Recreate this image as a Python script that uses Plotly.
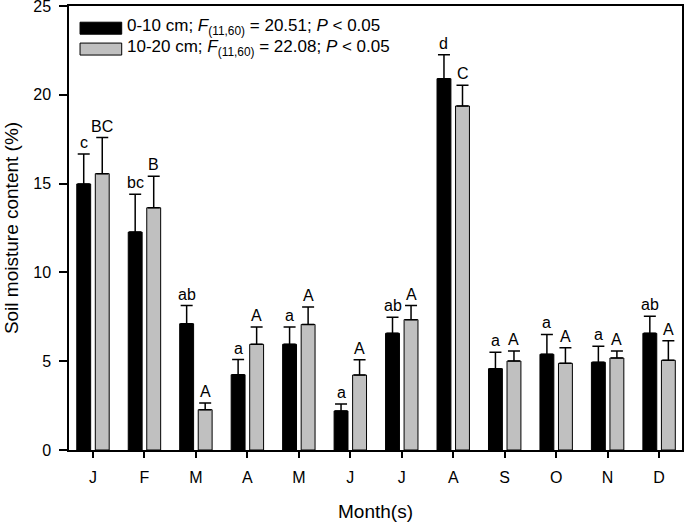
import plotly.graph_objects as go

months = ["J", "F", "M", "A", "M", "J", "J", "A", "S", "O", "N", "D"]
shallow_mean = [14.98, 12.27, 7.11, 4.24, 5.95, 2.20, 6.57, 20.91, 4.58, 5.39, 4.94, 6.57]
shallow_se = [1.69, 2.13, 1.02, 0.85, 0.98, 0.39, 0.90, 1.35, 0.92, 1.12, 0.90, 0.96]
deep_mean = [15.56, 13.64, 2.27, 5.95, 7.07, 4.22, 7.34, 19.37, 5.01, 4.88, 5.18, 5.05]
deep_se = [2.03, 1.77, 0.38, 0.98, 0.98, 0.86, 0.79, 1.17, 0.56, 0.88, 0.39, 1.10]
shallow_letters = ["c", "bc", "ab", "a", "a", "a", "ab", "d", "a", "a", "a", "ab"]
deep_letters = ["BC", "B", "A", "A", "A", "A", "A", "C", "A", "A", "A", "A"]
legend_labels = [
    "0-10 cm; <i>F</i><sub>(11,60)</sub> = 20.51; <i>P</i> < 0.05",
    "10-20 cm; <i>F</i><sub>(11,60)</sub> = 22.08; <i>P</i> < 0.05",
]

FONT = "Arial, 'Liberation Sans', sans-serif"
idx = list(range(len(months)))
W = 0.27

fig = go.Figure()
fig.add_trace(go.Bar(
    x=idx, y=shallow_mean, width=W, offset=-0.315,
    marker=dict(color="black", line=dict(color="black", width=1)),
    error_y=dict(type="data", array=shallow_se, symmetric=False,
                 arrayminus=[0] * len(idx), color="black", thickness=1.5, width=6),
    name="0-10 cm", showlegend=False,
))
fig.add_trace(go.Bar(
    x=idx, y=deep_mean, width=W, offset=0.045,
    marker=dict(color="#c0c0c0", line=dict(color="black", width=1)),
    error_y=dict(type="data", array=deep_se, symmetric=False,
                 arrayminus=[0] * len(idx), color="black", thickness=1.5, width=6),
    name="10-20 cm", showlegend=False,
))

annotations = []
for i in idx:
    annotations.append(dict(x=i - 0.18, y=shallow_mean[i] + shallow_se[i], text=shallow_letters[i],
                            showarrow=False, yanchor="bottom", xanchor="center", yshift=1,
                            font=dict(size=16, color="black", family=FONT)))
    annotations.append(dict(x=i + 0.18, y=deep_mean[i] + deep_se[i], text=deep_letters[i],
                            showarrow=False, yanchor="bottom", xanchor="center", yshift=1,
                            font=dict(size=16, color="black", family=FONT)))

# manual legend (paper coordinates)
shapes = []
leg_colors = ["black", "#c0c0c0"]
leg_y = [0.950, 0.903]
for k in range(2):
    shapes.append(dict(type="rect", xref="paper", yref="paper",
                       x0=0.018, x1=0.086, y0=leg_y[k] - 0.0135, y1=leg_y[k] + 0.0135,
                       fillcolor=leg_colors[k], line=dict(color="black", width=1)))
    annotations.append(dict(xref="paper", yref="paper", x=0.092, y=leg_y[k] + 0.002,
                            text=legend_labels[k], showarrow=False, xanchor="left", yanchor="middle",
                            font=dict(size=17, color="black", family=FONT)))

fig.update_layout(
    width=685, height=526,
    margin=dict(l=69, r=3, t=6, b=76, autoexpand=False),
    paper_bgcolor="white", plot_bgcolor="white",
    font=dict(family=FONT, size=16, color="black"),
    showlegend=False,
    annotations=annotations,
    shapes=shapes,
    xaxis=dict(
        tickmode="array", tickvals=idx, ticktext=months,
        range=[-0.466, 11.445], automargin=False,
        showline=True, linecolor="black", linewidth=1.5, mirror=True,
        ticks="outside", ticklen=6, tickwidth=1.5, tickcolor="black",
        ticklabelstandoff=6, ticklabeloverflow="allow",
        showgrid=False, zeroline=False,
        title=dict(text="Month(s)", font=dict(size=19), standoff=20),
        tickfont=dict(size=16),
    ),
    yaxis=dict(
        range=[0, 25], tickvals=[0, 5, 10, 15, 20, 25], automargin=False,
        showline=True, linecolor="black", linewidth=1.5, mirror=True,
        ticks="outside", ticklen=8, tickwidth=1.5, tickcolor="black",
        ticklabelstandoff=5, ticklabeloverflow="allow",
        showgrid=False, zeroline=False,
        title=dict(text="Soil moisture content (%)", font=dict(size=19), standoff=10),
        tickfont=dict(size=16),
    ),
)

fig.write_html("out.html", config={"displayModeBar": False},
               post_script="document.body.style.margin='0';document.body.style.overflow='hidden';")
